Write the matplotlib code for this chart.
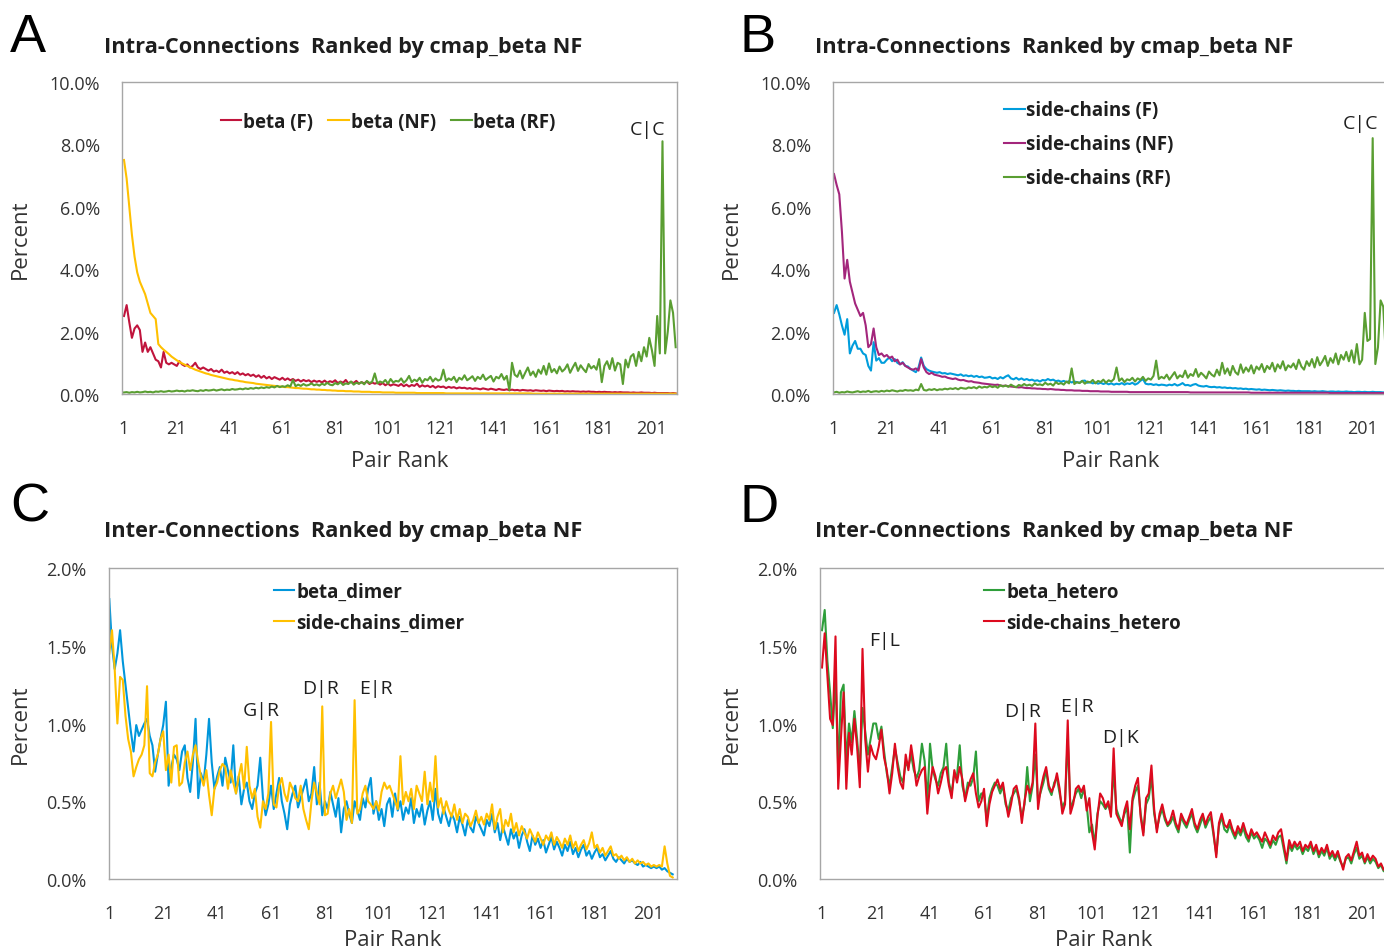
import matplotlib
matplotlib.use("Agg")
import matplotlib.pyplot as plt
from matplotlib.ticker import FuncFormatter
import numpy as np

plt.rcParams['font.family'] = ['Open Sans', 'DejaVu Sans']

W, H = 1384, 953

# ---------------- panel A : intra, beta ----------------
beta_F = [
    2.5, 2.85, 2.3, 1.8, 2.1, 2.2, 2.05, 1.35, 1.65, 1.35, 1.5, 1.3, 1.1, 1.05, 0.85,
    1.35, 1.0, 0.95, 1.0, 0.95, 0.9, 1.05, 0.95, 0.9, 0.95, 0.85, 0.9, 1.0, 0.85, 0.8,
    0.85, 0.8, 0.75, 0.8, 0.72, 0.75, 0.7, 0.78, 0.68, 0.72, 0.66, 0.7, 0.64, 0.7, 0.62,
    0.66, 0.6, 0.64, 0.58, 0.62, 0.55, 0.6, 0.52, 0.58, 0.5, 0.55, 0.48, 0.54, 0.5, 0.46,
    0.52, 0.45, 0.5, 0.44, 0.48, 0.42, 0.46, 0.4, 0.45, 0.41, 0.44, 0.38, 0.43, 0.39, 0.42,
    0.37, 0.43, 0.36, 0.41, 0.38, 0.44, 0.35, 0.4, 0.36, 0.45, 0.34, 0.39, 0.35, 0.42, 0.33,
    0.38, 0.34, 0.4, 0.32, 0.37, 0.33, 0.36, 0.30, 0.35, 0.28, 0.33, 0.27, 0.31, 0.29, 0.26,
    0.32, 0.25, 0.3, 0.24, 0.29, 0.26, 0.33, 0.23, 0.28, 0.24, 0.27, 0.22, 0.26, 0.2, 0.25,
    0.22, 0.24, 0.19, 0.23, 0.2, 0.22, 0.18, 0.21, 0.19, 0.2, 0.17, 0.19, 0.16, 0.18, 0.17,
    0.15, 0.18, 0.16, 0.14, 0.17, 0.15, 0.13, 0.16, 0.14, 0.13, 0.15, 0.12, 0.14, 0.12, 0.13,
    0.11, 0.13, 0.12, 0.11, 0.12, 0.10, 0.12, 0.11, 0.10, 0.11, 0.09, 0.11, 0.10, 0.09, 0.10,
    0.09, 0.1, 0.08, 0.09, 0.08, 0.09, 0.08, 0.08, 0.07, 0.08, 0.07, 0.08, 0.07, 0.07, 0.06,
    0.07, 0.06, 0.07, 0.06, 0.06, 0.05, 0.06, 0.05, 0.06, 0.05, 0.05, 0.05, 0.04, 0.05, 0.04,
    0.04, 0.05, 0.04, 0.04, 0.04, 0.03, 0.04, 0.03, 0.03, 0.03, 0.03, 0.03, 0.02, 0.03, 0.02,
]
beta_NF = [
    7.5, 6.9, 6.0, 5.1, 4.4, 3.9, 3.6, 3.4, 3.2, 2.9, 2.6, 2.5, 2.4, 1.6, 1.5,
    1.42, 1.35, 1.28, 1.2, 1.14, 1.08, 1.03, 0.98, 0.94, 0.9, 0.86, 0.82, 0.78, 0.75, 0.72,
    0.69, 0.66, 0.64, 0.61, 0.59, 0.57, 0.55, 0.53, 0.51, 0.49, 0.47, 0.46, 0.44, 0.43, 0.41,
    0.40, 0.38, 0.37, 0.36, 0.35, 0.33, 0.32, 0.31, 0.30, 0.29, 0.28, 0.27, 0.26, 0.25, 0.24,
    0.23, 0.22, 0.22, 0.21, 0.20, 0.19, 0.19, 0.18, 0.17, 0.17, 0.16, 0.15, 0.15, 0.14, 0.14,
    0.13, 0.13, 0.12, 0.12, 0.11, 0.11, 0.10, 0.10, 0.10, 0.09, 0.09, 0.09, 0.08, 0.08, 0.08,
    0.07, 0.07, 0.07, 0.07, 0.06, 0.06, 0.06, 0.06, 0.05, 0.05, 0.05, 0.05, 0.05, 0.04, 0.04,
    0.04, 0.04, 0.04, 0.04, 0.04, 0.04, 0.03, 0.03, 0.03, 0.03, 0.03, 0.03, 0.03, 0.03, 0.03,
    0.03, 0.03, 0.02, 0.02, 0.02, 0.02, 0.02, 0.02, 0.02, 0.02, 0.02, 0.02, 0.02, 0.02, 0.02,
    0.02, 0.02, 0.02, 0.02, 0.02, 0.02, 0.02, 0.02, 0.02, 0.02, 0.02, 0.02, 0.02, 0.02, 0.02,
    0.02, 0.02, 0.02, 0.02, 0.02, 0.01, 0.01, 0.01, 0.01, 0.01, 0.01, 0.01, 0.01, 0.01, 0.01,
    0.01, 0.01, 0.01, 0.01, 0.01, 0.01, 0.01, 0.01, 0.01, 0.01, 0.01, 0.01, 0.01, 0.01, 0.01,
    0.01, 0.01, 0.01, 0.01, 0.01, 0.01, 0.01, 0.01, 0.01, 0.01, 0.01, 0.01, 0.01, 0.01, 0.01,
    0.01, 0.01, 0.01, 0.01, 0.01, 0.01, 0.01, 0.01, 0.01, 0.01, 0.01, 0.01, 0.01, 0.01, 0.01,
]
beta_RF = [
    0.05, 0.06, 0.04, 0.06, 0.05, 0.07, 0.05, 0.06, 0.08, 0.06, 0.07, 0.05, 0.08, 0.07, 0.09,
    0.07, 0.08, 0.1, 0.08, 0.09, 0.11, 0.09, 0.1, 0.08, 0.11, 0.1, 0.12, 0.1, 0.09, 0.12,
    0.1, 0.13, 0.11, 0.12, 0.14, 0.11, 0.13, 0.15, 0.12, 0.14, 0.13, 0.16, 0.14, 0.15, 0.17,
    0.15, 0.18, 0.16, 0.19, 0.17, 0.2, 0.18, 0.21, 0.19, 0.22, 0.2, 0.24, 0.21, 0.26, 0.22,
    0.25, 0.23, 0.28, 0.24, 0.45, 0.25, 0.3, 0.26, 0.32, 0.27, 0.29, 0.34, 0.28, 0.31, 0.27,
    0.33, 0.29, 0.36, 0.3, 0.28, 0.35, 0.31, 0.38, 0.29, 0.34, 0.32, 0.4, 0.3, 0.36, 0.33,
    0.38, 0.31, 0.42, 0.35, 0.39, 0.66, 0.34, 0.4, 0.36, 0.45, 0.33, 0.48, 0.37, 0.42, 0.4,
    0.5, 0.36, 0.44, 0.58, 0.38, 0.46, 0.41, 0.52, 0.36, 0.48, 0.44, 0.55, 0.4, 0.5, 0.43,
    0.47, 0.78, 0.42, 0.5, 0.45, 0.55, 0.38, 0.52, 0.46, 0.6, 0.44, 0.5, 0.57, 0.42, 0.55,
    0.48, 0.62, 0.45, 0.52, 0.58, 0.4, 0.55, 0.5, 0.64, 0.46, 0.58, 0.12, 1.0, 0.62, 0.55,
    0.75, 0.5, 0.68, 0.85, 0.6, 0.72, 0.55, 0.78, 0.65, 0.9, 0.62, 0.98, 0.7, 0.8, 0.66,
    0.88, 0.72, 0.8, 0.95, 0.68, 0.85, 1.0, 0.74, 0.92, 0.8, 0.7, 0.96, 0.82, 0.9, 0.78,
    1.12, 0.38, 0.9, 1.05, 0.8, 1.15, 0.75, 1.0, 0.95, 0.32, 1.1, 0.85, 1.2, 1.28, 0.9,
    1.35, 1.05, 1.5, 1.2, 1.8, 1.4, 0.9, 2.5, 1.3, 8.1, 1.3, 2.0, 3.0, 2.6, 1.5,
]

# ---------------- panel B : intra, side-chains ----------------
sc_F = [
    2.6, 2.85, 2.55, 2.2, 1.9, 2.4, 1.3, 1.55, 1.7, 1.45, 1.45, 1.3, 1.25, 0.9, 0.75,
    1.66, 1.07, 1.15, 1.0, 1.0, 1.1, 1.17, 1.05, 1.12, 1.0, 0.95, 1.02, 0.9, 0.88, 0.8,
    0.75, 0.7, 0.85, 1.17, 0.9, 0.8, 0.75, 0.72, 0.7, 0.68, 0.7, 0.66, 0.67, 0.64, 0.66,
    0.64, 0.62, 0.6, 0.63, 0.58, 0.6, 0.57, 0.59, 0.55, 0.58, 0.54, 0.56, 0.52, 0.53, 0.55,
    0.5, 0.52, 0.48, 0.54, 0.5, 0.56, 0.6, 0.5, 0.47, 0.52, 0.46, 0.5, 0.45, 0.48, 0.44,
    0.46, 0.42, 0.44, 0.4, 0.45, 0.43, 0.48, 0.44, 0.46, 0.41, 0.43, 0.39, 0.42, 0.38, 0.41,
    0.37, 0.4, 0.38, 0.36, 0.42, 0.43, 0.36, 0.38, 0.34, 0.37, 0.33, 0.36, 0.32, 0.35, 0.31,
    0.34, 0.3, 0.33, 0.31, 0.35, 0.3, 0.34, 0.32, 0.36, 0.3, 0.34, 0.42, 0.48, 0.33, 0.31,
    0.32, 0.29, 0.31, 0.28, 0.3, 0.29, 0.27, 0.3, 0.28, 0.32, 0.27, 0.3, 0.35, 0.28, 0.29,
    0.26, 0.3, 0.32, 0.27, 0.25, 0.24, 0.26, 0.23, 0.22, 0.23, 0.21, 0.22, 0.2, 0.21, 0.19,
    0.2, 0.18, 0.19, 0.17, 0.18, 0.16, 0.17, 0.15, 0.16, 0.15, 0.14, 0.15, 0.13, 0.14, 0.13,
    0.12, 0.13, 0.12, 0.11, 0.12, 0.11, 0.1, 0.11, 0.1, 0.1, 0.09, 0.1, 0.09, 0.09, 0.09,
    0.09, 0.08, 0.09, 0.08, 0.08, 0.09, 0.08, 0.07, 0.08, 0.08, 0.07, 0.08, 0.07, 0.07, 0.08,
    0.07, 0.07, 0.06, 0.07, 0.07, 0.06, 0.07, 0.06, 0.06, 0.07, 0.06, 0.06, 0.06, 0.05, 0.06,
]
sc_NF = [
    7.05, 6.7, 6.4, 5.2, 3.7, 4.3, 3.6, 3.25, 2.9, 2.7, 2.5, 2.6, 2.2, 1.5, 1.6,
    2.1, 1.5, 1.25, 1.3, 1.2, 1.25, 1.15, 1.2, 1.05, 1.1, 0.95, 1.0, 0.9, 0.85, 0.8,
    0.78, 0.82, 0.75, 1.12, 0.85, 0.7, 0.64, 0.68, 0.62, 0.6, 0.58, 0.55, 0.56, 0.52, 0.5,
    0.48, 0.5, 0.46, 0.44, 0.45, 0.42, 0.4, 0.41, 0.38, 0.37, 0.36, 0.34, 0.33, 0.32, 0.31,
    0.3, 0.29, 0.3, 0.27, 0.26, 0.27, 0.25, 0.24, 0.23, 0.22, 0.21, 0.22, 0.2, 0.19, 0.19,
    0.18, 0.18, 0.17, 0.17, 0.16, 0.16, 0.15, 0.16, 0.15, 0.14, 0.14, 0.13, 0.13, 0.12, 0.12,
    0.12, 0.11, 0.11, 0.11, 0.10, 0.10, 0.10, 0.09, 0.09, 0.09, 0.09, 0.08, 0.08, 0.08, 0.08,
    0.07, 0.07, 0.07, 0.07, 0.07, 0.07, 0.07, 0.06, 0.06, 0.06, 0.06, 0.06, 0.06, 0.06, 0.06,
    0.06, 0.06, 0.06, 0.06, 0.06, 0.06, 0.06, 0.06, 0.06, 0.06, 0.06, 0.06, 0.06, 0.06, 0.06,
    0.05, 0.05, 0.05, 0.05, 0.05, 0.05, 0.05, 0.05, 0.05, 0.05, 0.05, 0.05, 0.05, 0.05, 0.05,
    0.05, 0.05, 0.05, 0.05, 0.05, 0.05, 0.05, 0.05, 0.04, 0.04, 0.04, 0.04, 0.04, 0.04, 0.04,
    0.04, 0.04, 0.04, 0.04, 0.04, 0.04, 0.04, 0.04, 0.04, 0.04, 0.04, 0.04, 0.04, 0.04, 0.04,
    0.04, 0.04, 0.04, 0.04, 0.04, 0.04, 0.04, 0.04, 0.03, 0.03, 0.03, 0.03, 0.03, 0.03, 0.03,
    0.03, 0.03, 0.03, 0.03, 0.03, 0.03, 0.03, 0.03, 0.03, 0.03, 0.03, 0.03, 0.03, 0.03, 0.03,
]
sc_RF = [
    0.05, 0.07, 0.04, 0.06, 0.05, 0.08, 0.06, 0.05, 0.07, 0.09, 0.06, 0.08, 0.07, 0.1, 0.06,
    0.08, 0.09, 0.07, 0.1, 0.08, 0.11, 0.09, 0.12, 0.1, 0.08, 0.11, 0.1, 0.13, 0.11, 0.12,
    0.1, 0.14, 0.12, 0.32, 0.13, 0.11, 0.15, 0.13, 0.16, 0.12, 0.15, 0.14, 0.17, 0.15, 0.18,
    0.16, 0.19, 0.15, 0.2, 0.18, 0.17, 0.21, 0.19, 0.22, 0.18, 0.24, 0.2, 0.23, 0.21, 0.26,
    0.22, 0.25, 0.2, 0.28, 0.24, 0.27, 0.23, 0.3, 0.25, 0.22, 0.29, 0.26, 0.32, 0.27, 0.3,
    0.26, 0.34, 0.29, 0.31, 0.28, 0.36, 0.3, 0.33, 0.27, 0.38, 0.32, 0.35, 0.3, 0.4, 0.34,
    0.82, 0.32, 0.38, 0.35, 0.42, 0.33, 0.4, 0.37, 0.45, 0.34, 0.42, 0.38, 0.46, 0.36, 0.44,
    0.4, 0.48, 0.85, 0.42, 0.5, 0.38, 0.47, 0.44, 0.52, 0.4, 0.5, 0.45, 0.55, 0.42, 0.5,
    0.46, 0.58, 1.07, 0.48, 0.55, 0.5, 0.62, 0.46, 0.58, 0.7, 0.5, 0.6, 0.54, 0.75, 0.52,
    0.64, 0.58, 0.8, 0.55, 0.68, 0.6, 0.5, 0.72, 0.62, 0.56, 0.78, 0.6, 1.0, 0.65, 0.82,
    0.6, 0.9, 0.7, 0.62, 0.95, 0.68, 0.85, 0.72, 0.92, 0.66, 0.88, 0.78, 0.96, 0.7, 0.9,
    0.8, 1.0, 0.72, 0.95, 0.82, 1.05, 0.76, 0.92, 0.85, 0.98, 0.8, 1.1, 0.88, 0.78, 1.05,
    0.9, 1.12, 0.85, 1.18, 0.92, 1.05, 1.22, 0.9, 1.15, 1.0, 1.3, 0.95, 1.25, 1.1, 1.35,
    1.05, 1.4, 1.0, 1.6, 0.95, 1.1, 2.6, 1.7, 1.76, 8.2, 0.96, 1.5, 3.0, 2.8, 1.2,
]

# ---------------- panel C : inter, dimer ----------------
beta_dimer = [
    1.8, 1.5, 1.35, 1.45, 1.6, 1.4, 1.25, 1.1, 0.95, 0.82, 0.99, 0.92, 0.96, 1.0, 1.03,
    0.92, 0.86, 0.69, 0.8, 0.9, 0.99, 1.14, 0.6, 0.72, 0.8, 0.77, 0.7, 0.82, 0.86, 0.65,
    0.56, 0.75, 1.03, 0.52, 0.68, 0.62, 0.8, 1.03, 0.75, 0.58, 0.66, 0.72, 0.6, 0.78, 0.7,
    0.62, 0.86, 0.55, 0.66, 0.48, 0.58, 0.62, 0.5, 0.45, 0.55, 0.6, 0.78, 0.52, 0.41, 0.48,
    0.6, 0.45, 0.55, 0.65, 0.5, 0.42, 0.32, 0.48, 0.55, 0.6, 0.46, 0.52, 0.58, 0.64, 0.5,
    0.55, 0.72, 0.48, 0.62, 0.41, 0.5, 0.45, 0.56, 0.48, 0.4, 0.52, 0.3, 0.45, 0.5, 0.42,
    0.36, 0.5, 0.44, 0.38, 0.52, 0.46, 0.58, 0.65, 0.42, 0.5, 0.38, 0.45, 0.34, 0.48, 0.52,
    0.4, 0.55, 0.44, 0.5, 0.38, 0.46, 0.42, 0.52, 0.36, 0.45, 0.4, 0.48, 0.35, 0.44, 0.5,
    0.38, 0.58, 0.42, 0.36, 0.46, 0.4, 0.34, 0.42, 0.38, 0.3, 0.4, 0.35, 0.28, 0.38, 0.33,
    0.3, 0.4, 0.36, 0.32, 0.28, 0.38, 0.34, 0.42, 0.3, 0.36, 0.25, 0.34, 0.28, 0.22, 0.32,
    0.26, 0.3, 0.2, 0.28, 0.32, 0.24, 0.18, 0.28, 0.22, 0.26, 0.2, 0.25, 0.17, 0.22, 0.27,
    0.19, 0.24, 0.2, 0.15, 0.22, 0.18, 0.24, 0.16, 0.2, 0.14, 0.19, 0.22, 0.15, 0.18, 0.13,
    0.17, 0.2, 0.14, 0.16, 0.12, 0.15, 0.18, 0.13, 0.11, 0.14, 0.12, 0.1, 0.13, 0.11, 0.12,
    0.1, 0.09, 0.11, 0.08, 0.09, 0.08, 0.07, 0.08, 0.07, 0.08, 0.06, 0.07, 0.05, 0.04, 0.03,
]
sc_dimer = [
    1.45, 1.6, 1.35, 1.0, 1.3, 1.28, 1.05, 0.9, 0.82, 0.66, 0.72, 0.77, 0.8, 0.86, 1.24,
    0.68, 0.66, 0.75, 0.8, 0.9, 0.95, 0.7, 0.8, 0.62, 0.85, 0.86, 0.6, 0.62, 0.75, 0.82,
    0.7, 0.8, 0.86, 0.75, 0.66, 0.6, 0.7, 0.54, 0.41, 0.58, 0.62, 0.7, 0.74, 0.72, 0.58,
    0.7, 0.62, 0.55, 0.66, 0.74, 0.58, 0.85, 0.6, 0.52, 0.58, 0.4, 0.33, 0.5, 0.45, 0.55,
    1.01, 0.48, 0.46, 0.6, 0.65, 0.55, 0.5, 0.62, 0.58, 0.52, 0.5, 0.6, 0.45, 0.38, 0.32,
    0.5, 0.62, 0.55, 0.48, 1.11, 0.41, 0.42, 0.55, 0.6, 0.52, 0.58, 0.64, 0.56, 0.38, 0.45,
    0.36, 1.15, 0.42, 0.45, 0.55, 0.6, 0.5, 0.48, 0.45, 0.5, 0.44, 0.56, 0.62, 0.58, 0.6,
    0.55, 0.5, 0.45, 0.79, 0.48, 0.56, 0.5, 0.58, 0.45, 0.6, 0.55, 0.5, 0.69, 0.48, 0.62,
    0.5, 0.79, 0.46, 0.52, 0.42, 0.5, 0.44, 0.4, 0.48, 0.38, 0.45, 0.36, 0.42, 0.4, 0.34,
    0.38, 0.44, 0.36, 0.4, 0.35, 0.42, 0.38, 0.48, 0.32, 0.4, 0.45, 0.3, 0.38, 0.34, 0.42,
    0.3, 0.36, 0.28, 0.34, 0.3, 0.26, 0.32, 0.28, 0.24, 0.3, 0.26, 0.22, 0.28, 0.25, 0.3,
    0.22, 0.27, 0.24, 0.2, 0.26, 0.22, 0.28, 0.2, 0.24, 0.18, 0.22, 0.25, 0.19, 0.23, 0.3,
    0.2, 0.22, 0.17, 0.2, 0.15, 0.18, 0.21, 0.15, 0.16, 0.13, 0.15, 0.12, 0.14, 0.11, 0.13,
    0.1, 0.12, 0.1, 0.11, 0.09, 0.1, 0.08, 0.09, 0.08, 0.09, 0.08, 0.21, 0.1, 0.02, 0.01,
]

# ---------------- panel D : inter, hetero ----------------
beta_hetero = [
    1.6, 1.73, 1.4, 1.2, 0.97, 1.3, 0.7, 1.2, 1.25, 0.75, 1.0, 0.88, 1.08, 0.9, 0.68,
    1.1, 0.95, 0.8, 0.9, 1.0, 1.0, 0.9, 0.98, 0.82, 0.68, 0.6, 0.72, 0.84, 0.75, 0.66,
    0.62, 0.75, 0.72, 0.8, 0.7, 0.65, 0.7, 0.87, 0.76, 0.5, 0.87, 0.7, 0.64, 0.6, 0.68,
    0.72, 0.87, 0.62, 0.55, 0.68, 0.66, 0.86, 0.6, 0.52, 0.62, 0.6, 0.65, 0.82, 0.5, 0.55,
    0.55, 0.38, 0.52, 0.58, 0.62, 0.6, 0.55, 0.6, 0.48, 0.44, 0.52, 0.55, 0.58, 0.5, 0.4,
    0.48, 0.72, 0.5, 0.6, 0.8, 0.5, 0.56, 0.62, 0.7, 0.58, 0.54, 0.62, 0.65, 0.55, 0.46,
    0.5, 0.9, 0.45, 0.5, 0.55, 0.58, 0.52, 0.58, 0.48, 0.3, 0.35, 0.22, 0.42, 0.5, 0.48,
    0.45, 0.48, 0.42, 0.7, 0.45, 0.4, 0.36, 0.42, 0.46, 0.17, 0.5, 0.56, 0.6, 0.42, 0.3,
    0.48, 0.52, 0.66, 0.42, 0.32, 0.4, 0.45, 0.38, 0.34, 0.36, 0.4, 0.34, 0.3, 0.4, 0.36,
    0.33, 0.38, 0.42, 0.34, 0.3, 0.35, 0.4, 0.33, 0.37, 0.4, 0.28, 0.16, 0.34, 0.4, 0.32,
    0.3, 0.35, 0.3, 0.26, 0.31, 0.28, 0.33, 0.27, 0.24, 0.3, 0.26, 0.28, 0.25, 0.2, 0.26,
    0.24, 0.2, 0.25, 0.22, 0.27, 0.28, 0.19, 0.1, 0.22, 0.18, 0.22, 0.19, 0.21, 0.16, 0.2,
    0.18, 0.22, 0.16, 0.2, 0.14, 0.18, 0.15, 0.2, 0.13, 0.16, 0.12, 0.16, 0.11, 0.08, 0.13,
    0.14, 0.1, 0.16, 0.2, 0.13, 0.15, 0.1, 0.14, 0.1, 0.13, 0.11, 0.07, 0.09, 0.05, 0.05,
]
sc_hetero = [
    1.36, 1.58, 1.3, 1.03, 0.99, 1.56, 0.58, 0.9, 1.2, 0.58, 0.94, 0.8, 1.03, 0.85, 0.59,
    1.48, 0.9, 0.69, 0.86, 0.8, 0.77, 0.85, 0.96, 0.78, 0.7, 0.55, 0.68, 0.87, 0.72, 0.62,
    0.58, 0.8, 0.7, 0.86, 0.74, 0.6, 0.66, 0.7, 0.72, 0.42, 0.6, 0.72, 0.66, 0.55, 0.62,
    0.7, 0.72, 0.6, 0.52, 0.7, 0.62, 0.72, 0.64, 0.5, 0.58, 0.64, 0.68, 0.55, 0.46, 0.5,
    0.58, 0.34, 0.48, 0.56, 0.6, 0.64, 0.58, 0.62, 0.5, 0.4, 0.48, 0.58, 0.6, 0.52, 0.36,
    0.5, 0.6, 0.55, 0.62, 1.0, 0.45, 0.58, 0.66, 0.72, 0.6, 0.56, 0.6, 0.68, 0.58, 0.42,
    0.48, 1.02, 0.42, 0.48, 0.58, 0.6, 0.56, 0.6, 0.44, 0.52, 0.3, 0.19, 0.4, 0.55, 0.52,
    0.46, 0.5, 0.4, 0.84, 0.42, 0.38, 0.34, 0.44, 0.5, 0.32, 0.52, 0.6, 0.65, 0.4, 0.28,
    0.52, 0.55, 0.73, 0.45, 0.3, 0.42, 0.48, 0.4, 0.35, 0.38, 0.44, 0.36, 0.32, 0.42, 0.38,
    0.35, 0.4, 0.45, 0.36, 0.32, 0.38, 0.42, 0.35, 0.4, 0.43, 0.3, 0.14, 0.36, 0.42, 0.35,
    0.33, 0.38, 0.32, 0.28, 0.34, 0.3, 0.36, 0.3, 0.26, 0.32, 0.28, 0.3, 0.27, 0.24, 0.3,
    0.26, 0.22, 0.28, 0.25, 0.3, 0.32, 0.22, 0.12, 0.25, 0.2, 0.24, 0.21, 0.24, 0.18, 0.22,
    0.2, 0.24, 0.18, 0.22, 0.16, 0.2, 0.17, 0.22, 0.15, 0.18, 0.14, 0.18, 0.12, 0.06, 0.14,
    0.16, 0.12, 0.18, 0.24, 0.15, 0.17, 0.11, 0.16, 0.12, 0.15, 0.13, 0.08, 0.1, 0.06, 0.06,
]

rank_ticks = [1, 21, 41, 61, 81, 101, 121, 141, 161, 181, 201]
title_intra = "Intra-Connections  Ranked by cmap_beta NF"
title_inter = "Inter-Connections  Ranked by cmap_beta NF"

TXT = '#1E1E1E'
TICK = '#333333'

fig = plt.figure(figsize=(W / 100, H / 100), dpi=100)
fig.patch.set_facecolor('white')


def panel(left, top, width, height, xlim, ymax, ystep):
    ax = fig.add_axes([left / W, 1 - (top + height) / H, width / W, height / H])
    ax.set_xlim(*xlim)
    ax.set_ylim(0, ymax)
    ax.set_xticks(rank_ticks)
    ax.set_yticks(np.arange(0, ymax + ystep / 2, ystep))
    ax.yaxis.set_major_formatter(FuncFormatter(lambda v, p: f"{v:.1f}%"))
    ax.tick_params(length=0, labelsize=13, labelcolor=TICK)
    ax.tick_params(axis='y', pad=16)
    ax.tick_params(axis='x', pad=18)
    for s in ax.spines.values():
        s.set_color('#A6A6A6')
        s.set_linewidth(1.0)
    ax.set_ylabel("Percent", fontsize=16, color=TICK)
    ax.set_xlabel("Pair Rank", fontsize=16, color=TICK)
    return ax


def series(ax, y, color, label):
    x = np.arange(1, len(y) + 1)
    ax.plot(x, y, color=color, lw=1.5, label=label)


def legend(ax, xy, ncol=1, spacing=0.55):
    lg = ax.legend(loc='center left', bbox_to_anchor=xy, ncol=ncol, frameon=False,
                   handlelength=1.1, handletextpad=0.1, columnspacing=0.8,
                   labelspacing=spacing, borderaxespad=0, borderpad=0,
                   prop={'size': 13.5, 'weight': 'bold'})
    for t in lg.get_texts():
        t.set_color(TXT)


def mark(ax, x, y, s):
    ax.text(x, y, s, ha='center', va='center', fontsize=14, color=TXT)


# panel A
axA = panel(122, 83, 555, 312, (0.24, 210.5), 10, 2)
series(axA, beta_F, '#C0143C', 'beta (F)')
series(axA, beta_NF, '#FFC000', 'beta (NF)')
series(axA, beta_RF, '#5A9E32', 'beta (RF)')
legend(axA, (0.178, 0.872), ncol=3)
mark(axA, 199.5, 8.5, 'C|C')
axA.yaxis.set_label_coords(-0.165, 0.5)
axA.xaxis.set_label_coords(0.5, -0.18)

# panel B
axB = panel(833, 83, 555, 312, (0.62, 210.8), 10, 2)
series(axB, sc_F, '#009DDC', 'side-chains (F)')
series(axB, sc_NF, '#A3267C', 'side-chains (NF)')
series(axB, sc_RF, '#5A9E32', 'side-chains (RF)')
legend(axB, (0.308, 0.80), spacing=0.75)
mark(axB, 200.2, 8.7, 'C|C')
axB.yaxis.set_label_coords(-0.165, 0.5)
axB.xaxis.set_label_coords(0.5, -0.18)

# panel C
axC = panel(109, 569, 568, 311, (0.89, 211.6), 2.0, 0.5)
series(axC, beta_dimer, '#0096DB', 'beta_dimer')
series(axC, sc_dimer, '#FFC000', 'side-chains_dimer')
legend(axC, (0.29, 0.874))
for x, y, s in [(57.4, 1.09, 'G|R'), (79.3, 1.23, 'D|R'), (100, 1.23, 'E|R')]:
    mark(axC, x, y, s)
axC.yaxis.set_label_coords(-0.137, 0.5)
axC.xaxis.set_label_coords(0.5, -0.16)

# panel D
axD = panel(820, 569, 568, 311, (0.26, 210.6), 2.0, 0.5)
series(axD, beta_hetero, '#2E9E3A', 'beta_hetero')
series(axD, sc_hetero, '#DD0A1E', 'side-chains_hetero')
legend(axD, (0.288, 0.874))
for x, y, s in [(24, 1.54, 'F|L'), (75.4, 1.08, 'D|R'), (95.4, 1.11, 'E|R'), (111.4, 0.91, 'D|K')]:
    mark(axD, x, y, s)
axD.yaxis.set_label_coords(-0.137, 0.5)
axD.xaxis.set_label_coords(0.5, -0.16)

# titles and panel letters
for x, y, s in [(104, 47, title_intra), (815, 47, title_intra),
                (104, 532, title_inter), (815, 532, title_inter)]:
    fig.text(x / W, 1 - y / H, s, ha='left', va='center', fontsize=15.7,
             fontweight='bold', color=TXT)
for x, y, s in [(10, 38, 'A'), (740, 38, 'B'), (10, 508, 'C'), (740, 508, 'D')]:
    fig.text(x / W, 1 - y / H, s, ha='left', va='center', fontsize=39,
             family='Liberation Sans', color='black')

fig.savefig('out.png', dpi=100)
